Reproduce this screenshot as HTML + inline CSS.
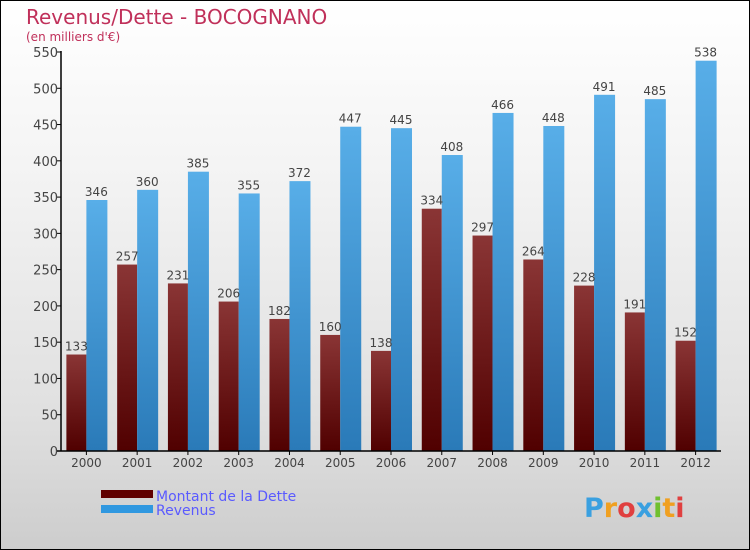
<!DOCTYPE html>
<html><head><meta charset="utf-8"><style>
body{margin:0;}
#c{position:relative;width:748px;height:548px;border:1px solid #000;background:linear-gradient(#fff,#f4f4f4 30%,#e0e0e0 75%,#cdcdcd);overflow:hidden;font-family:"DejaVu Sans","Liberation Sans",sans-serif;}
svg text{font-family:"DejaVu Sans","Liberation Sans",sans-serif;}
</style></head><body>
<div id="c">
<svg width="748" height="548" id="svg">
<defs>
<linearGradient id="gd" x1="0" y1="0" x2="0" y2="1"><stop offset="0" stop-color="#8a3535"/><stop offset="1" stop-color="#500000"/></linearGradient>
<linearGradient id="gr" x1="0" y1="0" x2="0" y2="1"><stop offset="0" stop-color="#58aee8"/><stop offset="1" stop-color="#2a7ab8"/></linearGradient>
</defs>
<text x="25" y="23" font-size="20" fill="#c0305a">Revenus/Dette - BOCOGNANO</text>
<text x="25" y="40" font-size="12" fill="#c0305a">(en milliers d'€)</text>
<g id="plot"></g>
<rect x="100" y="489" width="52" height="8" fill="#600000"/>
<rect x="100" y="504" width="52" height="8" fill="#3098e0"/>
<text x="155" y="500" font-size="14" fill="#5a5aff">Montant de la Dette</text>
<text x="155" y="514" font-size="14" fill="#5a5aff">Revenus</text>
<text x="583" y="516" font-size="27" font-weight="bold"><tspan fill="#3aa0e0">P</tspan><tspan fill="#f0a020">r</tspan><tspan fill="#e04040">o</tspan><tspan fill="#3aa0e0">x</tspan><tspan fill="#70c030">i</tspan><tspan fill="#f0a020">t</tspan><tspan fill="#e04040">i</tspan></text>
</svg>
</div>
<script>
const years=["2000","2001","2002","2003","2004","2005","2006","2007","2008","2009","2010","2011","2012"];
const dette=[133,257,231,206,182,160,138,334,297,264,228,191,152];
const revenus=[346,360,385,355,372,447,445,408,466,448,491,485,538];
const ticks=[0,50,100,150,200,250,300,350,400,450,500,550];
const NS="http://www.w3.org/2000/svg";
const g=document.getElementById('plot');
const X0=60,X1=720,Y0=450,YT=51,MAX=550;
const y=v=>Y0-v*(Y0-YT)/MAX;
const band=(X1-X0)/years.length;
const cx=i=>X0+band*(i+0.5);
function mk(t,a){const e=document.createElementNS(NS,t);for(const k in a)e.setAttribute(k,a[k]);g.appendChild(e);return e;}
ticks.forEach(t=>{
 const l=mk('line',{x1:X0-4,x2:X0,y1:y(t),y2:y(t),stroke:'#000'});
 
 
 const tx=mk('text',{x:X0-3,y:y(t)+5,'font-size':13,'text-anchor':'end',fill:'#444'});
 tx.textContent=t;
 
 
});
years.forEach((yr,i)=>{
 const c=cx(i);
 const b1=mk('rect',{x:c-20,y:y(dette[i]),width:20,height:Y0-y(dette[i]),fill:'url(#gd)'});
 
 
 const b2=mk('rect',{x:c,y:y(revenus[i]),width:21,height:Y0-y(revenus[i]),fill:'url(#gr)'});
 
 
 const t1=mk('text',{x:c-10,y:y(dette[i])-4,'font-size':12,'text-anchor':'middle',fill:'#444'});
 t1.textContent=dette[i];
 
 
 const t2=mk('text',{x:c+10,y:y(revenus[i])-4,'font-size':12,'text-anchor':'middle',fill:'#444'});
 t2.textContent=revenus[i];
 
 
 const tk=mk('line',{x1:c,x2:c,y1:Y0,y2:Y0+4,stroke:'#000'});
 
 
 const xl=mk('text',{x:c,y:Y0+16,'font-size':12,'text-anchor':'middle',fill:'#444'});
 xl.textContent=yr;
 
 
});
const ya=mk('line',{x1:X0,x2:X0,y1:YT-1,y2:Y0,stroke:'#000','stroke-width':1.5});


const xa=mk('line',{x1:X0-4,x2:X1,y1:Y0,y2:Y0,stroke:'#000','stroke-width':1.5});


</script>
</body></html>
